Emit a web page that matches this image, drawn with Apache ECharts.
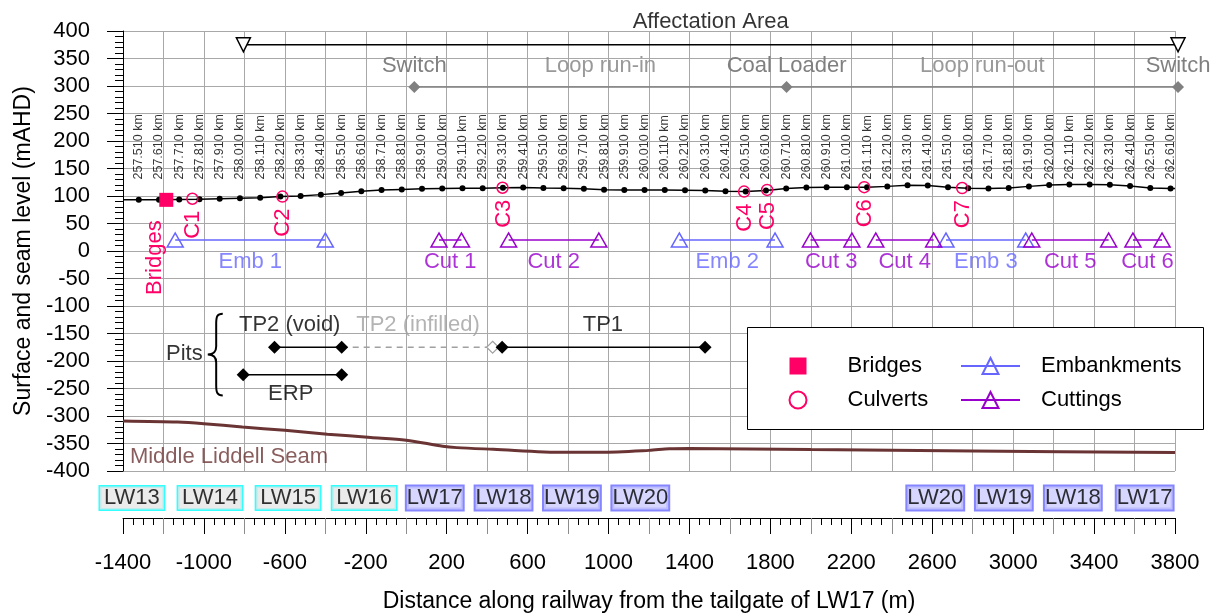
<!DOCTYPE html>
<html><head><meta charset="utf-8">
<script src="https://cdn.jsdelivr.net/npm/echarts@6/dist/echarts.min.js"></script>
<style>html,body{margin:0;padding:0;background:#fff}#c{width:1220px;height:614px}</style>
</head><body><div id="c"></div>
<script>
// ---------------- DATA ----------------
const chainageLabels = ['257.510 km','257.610 km','257.710 km','257.810 km','257.910 km','258.010 km','258.110 km','258.210 km','258.310 km','258.410 km','258.510 km','258.610 km','258.710 km','258.810 km','258.910 km','259.010 km','259.110 km','259.210 km','259.310 km','259.410 km','259.510 km','259.610 km','259.710 km','259.810 km','259.910 km','260.010 km','260.110 km','260.210 km','260.310 km','260.410 km','260.510 km','260.610 km','260.710 km','260.810 km','260.910 km','261.010 km','261.110 km','261.210 km','261.310 km','261.410 km','261.510 km','261.610 km','261.710 km','261.810 km','261.910 km','262.010 km','262.110 km','262.210 km','262.310 km','262.410 km','262.510 km','262.610 km'];
const surfaceDist = [-1322,-1222,-1122,-1022,-922,-822,-722,-622,-522,-422,-322,-222,-122,-22,78,178,278,378,478,578,678,778,878,978,1078,1178,1278,1378,1478,1578,1678,1778,1878,1978,2078,2178,2278,2378,2478,2578,2678,2778,2878,2978,3078,3178,3278,3378,3478,3578,3678,3778];
const surfaceLevel = [93,93,93.5,94,95,96,97,99,100,102.5,105.5,108.5,111,112,113,113.5,114,114,115,115.5,114.5,114,113,111.5,111,111,111,110.5,110,108.5,108,110,113.5,115.5,116,116,116,117.5,119.5,119,116,114,113.5,114.5,117.5,120,121,121,120.5,118,114.5,113.5];
const surfaceEnds = [[-1400, 93], [3800, 113.5]];
const chainageLabelLevel = 130;

const bridgeDist = [-1186];
const bridgeLevel = [93];

const culvertNames = ['C1','C2','C3','C4','C5','C6','C7'];
const culvertDist = [-1057,-612,476,1670,1784,2264,2748];
const culvertLevel = [95,99,115,108,111,116,114.5];

const structureLevel = 20;
const embNames = ['Emb 1','Emb 2','Emb 3'];
const embStart = [-1142,1350,2668];
const embEnd = [-400,1823,3062];
const cutNames = ['Cut 1','Cut 2','Cut 3','Cut 4','Cut 5','Cut 6'];
const cutStart = [162,506,1998,2321,3092,3592];
const cutEnd = [273,952,2203,2607,3472,3736];

const affectTitle = 'Affectation Area';
const affectDist = [-805, 3815];
const affectLevel = 375;

const featureNames = ['Switch','Coal Loader','Switch'];
const featureDist = [40, 1880, 3815];
const featureLevel = 298;
const sectionNames = ['Loop run-in','Loop run-out'];

const pitTPLevel = -175;
const pitERPLevel = -225;
const tp2VoidDist = [-651, -319];
const tp2InfilledDist = [-319, 427];
const tp1Dist = [474, 1477];
const erpDist = [-806, -319];
const pitLabelText = ['TP2 (void)','TP1','ERP','Pits'];
const pitLabelDist = [-576, 972, -571, -1097];
const pitLabelLevel = [-135, -135, -259, -186.5];
const infilledLabel = ['TP2 (infilled)'];
const infilledLabelDist = [58];
const infilledLabelLevel = [-135];
const braceDist = -944, braceTop = -114, braceBottom = -262.5;

const seamName = 'Middle Liddell Seam';
const seamDist =  [-1400,-1130,-1000,-810,-600,-390,-175,0,180,250,430,780,960,1200,1300,1400,2000,2800,3800];
const seamLevel = [-309,-311,-314,-320,-326,-333,-339,-344,-355,-357.5,-360.5,-366,-366,-362.5,-359.5,-359,-361,-363.5,-366.5];
const seamLabelDist = -1366, seamLabelLevel = -374.5;

const lwMinedNames = ['LW13','LW14','LW15','LW16'];
const lwMinedCentre = [-1356,-970,-584,-208];
const lwPlanNames = ['LW17','LW18','LW19','LW20','LW20','LW19','LW18','LW17'];
const lwPlanCentre = [141,481,819,1157,2615,2954,3295,3650];

const xTickLabelValues = [-1400,-1000,-600,-200,200,600,1000,1400,1800,2200,2600,3000,3400,3800];
const xGreyTickValues = [-1200,-800,-400,0,400,800,1200,1600,2000,2400,2800,3200,3600];

// ---------------- STYLE ----------------
const FONT = '"Liberation Sans", Arial, sans-serif';
const FS = 22;
const pink = '#FF0066', embBlue = '#6666FF', cutPurple = '#9900CC', grey = '#808080', lightGrey = '#A0A0A0', seamBrown = '#6B3434', gridCol = '#A8A8A8';

function textPoints(xs, ys, names) { return xs.map((x, i) => ({value: [x, ys[i]], name: names[i]})); }
function labelSeries(data, color, offset, extra) {
  return Object.assign({
    type: 'scatter', xAxisIndex: 0, yAxisIndex: 0, symbolSize: 1, silent: true, clip: false,
    itemStyle: {color: 'rgba(0,0,0,0)'}, data: data, z: 6,
    label: Object.assign({show: true, position: 'inside', formatter: p => p.name, color: color, fontSize: FS,
      fontFamily: FONT, textBorderWidth: 0, offset: offset, align: 'center', verticalAlign: 'middle'}, extra || {})
  });
}

const series = [];
// Seam
series.push({type: 'line', name: 'seam', data: seamDist.map((d, i) => [d, seamLevel[i]]), symbol: 'none', smooth: 0.3,
  lineStyle: {color: seamBrown, width: 3}, silent: true, z: 2});
series.push(labelSeries([{value: [seamLabelDist, seamLabelLevel], name: seamName}], seamBrown, [0, 0], {align: 'left'}));

// Surface
series.push({type: 'line', name: 'surface', showAllSymbol: true,
  data: [{value: surfaceEnds[0], symbol: 'none'}].concat(surfaceDist.map((d, i) => [d, surfaceLevel[i]]), [{value: surfaceEnds[1], symbol: 'none'}]),
  symbol: 'circle', symbolSize: 6, lineStyle: {color: '#000', width: 1.5}, itemStyle: {color: '#000'}, silent: true, z: 3});
series.push(labelSeries(textPoints(surfaceDist, surfaceDist.map(() => chainageLabelLevel), chainageLabels), '#000', [0, 0],
  {rotate: 90, align: 'left', fontSize: 12.5}));

// Bridges (rotated-label offsets are given in the label's own rotated frame)
series.push({type: 'scatter', name: 'Bridges', data: bridgeDist.map((d, i) => [d, bridgeLevel[i]]), symbol: 'rect', symbolSize: 14,
  itemStyle: {color: pink, opacity: 1}, z: 5,
  label: {show: true, formatter: 'Bridges', position: 'inside', rotate: 90, align: 'right', verticalAlign: 'middle', offset: [-20.5, -11],
    color: pink, fontSize: FS, fontFamily: FONT, textBorderWidth: 0}});
// Culverts
series.push({type: 'scatter', name: 'Culverts', data: textPoints(culvertDist, culvertLevel, culvertNames), symbol: 'circle', symbolSize: 11,
  itemStyle: {color: 'rgba(255,255,255,0)', borderColor: pink, borderWidth: 1.5, opacity: 1}, z: 5,
  label: {show: true, formatter: p => p.name, position: 'inside', rotate: 90, align: 'right', verticalAlign: 'middle', offset: [-12, 1],
    color: pink, fontSize: FS, fontFamily: FONT, textBorderWidth: 0}});

// Embankments & cuttings
function segSeries(name, starts, ends, color) {
  return starts.map((s, i) => ({type: 'line', name: name, data: [[s, structureLevel], [ends[i], structureLevel]],
    symbol: 'triangle', symbolSize: [16, 14], lineStyle: {color: color, width: 1.5},
    itemStyle: {color: 'rgba(255,255,255,0)', borderColor: color, borderWidth: 1.5}, z: 4}));
}
segSeries('Embankments', embStart, embEnd, embBlue).forEach(s => series.push(s));
segSeries('Cuttings', cutStart, cutEnd, cutPurple).forEach(s => series.push(s));
series.push(labelSeries(textPoints(embStart.map((s, i) => (s + embEnd[i]) / 2), embNames.map(() => structureLevel), embNames), embBlue, [0, 22]));
series.push(labelSeries(textPoints(cutStart.map((s, i) => (s + cutEnd[i]) / 2), cutNames.map(() => structureLevel), cutNames), cutPurple, [0, 22]));

// Affectation area
series.push({type: 'line', name: 'affect', data: affectDist.map(d => [d, affectLevel]), symbol: 'triangle', symbolRotate: 180, symbolSize: 14,
  clip: false, lineStyle: {color: '#000', width: 1.5}, itemStyle: {color: '#fff', borderColor: '#000', borderWidth: 1.5}, silent: true, z: 4});
series.push(labelSeries([{value: [(affectDist[0] + affectDist[1]) / 2, affectLevel], name: affectTitle}], '#000', [0, -22.6]));

// Railway features
series.push({type: 'line', name: 'features', data: textPoints(featureDist, featureDist.map(() => featureLevel), featureNames), symbol: 'diamond', symbolSize: 12,
  clip: false, lineStyle: {color: grey, width: 1.5}, itemStyle: {color: grey}, silent: true, z: 4,
  label: {show: true, position: 'inside', formatter: p => p.name, offset: [0, -20.7], color: grey, fontSize: FS, fontFamily: FONT, textBorderWidth: 0}});
series.push(labelSeries(textPoints(sectionNames.map((n, i) => (featureDist[i] + featureDist[i + 1]) / 2), sectionNames.map(() => featureLevel), sectionNames), grey, [0, -20.7]));

// Pits
series.push({type: 'line', name: 'tp2inf', data: [{value: [tp2InfilledDist[0], pitTPLevel], symbol: 'none'}, [tp2InfilledDist[1], pitTPLevel]],
  symbol: 'diamond', symbolSize: 12, lineStyle: {color: lightGrey, width: 1.5, type: [6, 5]}, itemStyle: {color: '#fff', borderColor: lightGrey, borderWidth: 1.2}, silent: true, z: 4});
[tp2VoidDist, tp1Dist].forEach(seg => series.push({type: 'line', name: 'tp', data: seg.map(d => [d, pitTPLevel]), symbol: 'diamond', symbolSize: 13,
  lineStyle: {color: '#000', width: 1.5}, itemStyle: {color: '#000'}, silent: true, z: 5}));
series.push({type: 'line', name: 'erp', data: erpDist.map(d => [d, pitERPLevel]), symbol: 'diamond', symbolSize: 13,
  lineStyle: {color: '#000', width: 1.5}, itemStyle: {color: '#000'}, silent: true, z: 5});
series.push(labelSeries(textPoints(pitLabelDist, pitLabelLevel, pitLabelText), '#000', [0, 0]));
series.push(labelSeries(textPoints(infilledLabelDist, infilledLabelLevel, infilledLabel), lightGrey, [0, 0]));
// Brace
series.push({type: 'custom', name: 'brace', xAxisIndex: 0, yAxisIndex: 0, silent: true, clip: false, z: 5,
  data: [[braceDist, braceTop, braceBottom]], encode: {x: 0, y: [1, 2]},
  renderItem: function (params, api) {
    const top = api.coord([api.value(0), api.value(1)]);
    const bot = api.coord([api.value(0), api.value(2)]);
    const w = 15;
    return {type: 'path', shape: {pathData: 'M16,0 C10,0 9,3 9,10 L9,33 C9,38 6,41 0,41 C6,41 9,44 9,49 L9,72 C9,79 10,82 16,82',
      x: top[0] - w / 2, y: top[1], width: w, height: bot[1] - top[1], layout: 'cover'},
      style: {stroke: '#000', lineWidth: 2, fill: 'none'}};
  }});

// Longwall boxes
function lwSeries(names, centres, bg, border, bw, pad) {
  return {type: 'scatter', xAxisIndex: 1, yAxisIndex: 1, symbolSize: 1, silent: true, itemStyle: {color: 'rgba(0,0,0,0)'},
    data: textPoints(centres, centres.map(() => 0.5), names),
    label: {show: true, position: 'inside', formatter: p => p.name, color: '#000', fontSize: FS, fontFamily: FONT, lineHeight: 22,
      backgroundColor: bg, borderColor: border, borderWidth: bw, padding: pad, textBorderWidth: 0}};
}
series.push(lwSeries(lwMinedNames, lwMinedCentre, '#E6E6E6', '#00FFFF', 1.5, [1, 4, 0, 4]));
series.push(lwSeries(lwPlanNames, lwPlanCentre, '#CCCCFF', '#6666FF', 2, [1, 0, 0, 0]));

const option = {
  animation: false,
  backgroundColor: '#fff',
  textStyle: {fontFamily: FONT},
  grid: [
    {left: 123, right: 45, top: 31, bottom: 143},
    {left: 123, right: 45, top: 478, height: 42}
  ],
  xAxis: [
    {type: 'value', gridIndex: 0, min: -1400, max: 3800, interval: 200,
      axisLine: {show: false, onZero: false}, axisTick: {show: false}, axisLabel: {show: false},
      splitLine: {show: true, lineStyle: {color: gridCol, width: 1}}},
    {type: 'value', gridIndex: 1, min: -1400, max: 3800, interval: 200, position: 'bottom',
      axisLine: {show: true, onZero: false, lineStyle: {color: '#000', width: 1}},
      axisTick: {show: true, length: 16, lineStyle: {color: '#000'}},
      minorTick: {show: true, splitNumber: 4, length: 7, lineStyle: {color: '#000'}},
      axisLabel: {show: true, margin: 34, fontSize: FS, color: '#000', fontFamily: FONT, customValues: xTickLabelValues,
        formatter: v => String(v)},
      splitLine: {show: false},
      name: 'Distance along railway from the tailgate of LW17 (m)', nameLocation: 'middle', nameGap: 72,
      nameTextStyle: {fontSize: 23, color: '#000', fontFamily: FONT}},
    {type: 'value', gridIndex: 1, min: -1400, max: 3800, interval: 200, position: 'bottom',
      axisLine: {show: false, onZero: false}, axisLabel: {show: false}, splitLine: {show: false},
      axisTick: {show: true, length: 16, customValues: xGreyTickValues, lineStyle: {color: '#8C8C8C'}}}
  ],
  yAxis: [
    {type: 'value', gridIndex: 0, min: -400, max: 400, interval: 50,
      axisLine: {show: true, onZero: false, lineStyle: {color: '#000', width: 1}},
      axisTick: {show: true, length: 16, lineStyle: {color: '#000'}},
      minorTick: {show: true, splitNumber: 5, length: 8, lineStyle: {color: '#000'}},
      axisLabel: {fontSize: FS, color: '#000', margin: 33, fontFamily: FONT},
      splitLine: {show: true, lineStyle: {color: gridCol, width: 1}},
      name: 'Surface and seam level (mAHD)', nameLocation: 'middle', nameGap: 65,
      nameTextStyle: {fontSize: 23, color: '#000', fontFamily: FONT}},
    {type: 'value', gridIndex: 1, min: 0, max: 1, show: false}
  ],
  legend: [
    {data: ['Bridges', 'Culverts'], orient: 'vertical', left: 783.5, top: 350, itemWidth: 17, itemHeight: 17, itemGap: 12,
      selectedMode: false, textStyle: {fontSize: FS, color: '#000', fontFamily: FONT, lineHeight: 22, padding: [0, 0, 0, 36]}},
    {data: ['Embankments', 'Cuttings'], orient: 'vertical', left: 955, top: 350, itemWidth: 59, itemHeight: 20, itemGap: 12,
      selectedMode: false, textStyle: {fontSize: FS, color: '#000', fontFamily: FONT, lineHeight: 22, padding: [0, 0, 0, 16]}}
  ],
  graphic: [
    {type: 'rect', left: 747, top: 327, z: 3, silent: true,
      shape: {width: 456, height: 102}, style: {fill: '#fff', stroke: '#000', lineWidth: 1}}
  ],
  series: series
};
const chart = echarts.init(document.getElementById('c'), null, {renderer: 'canvas'});
chart.setOption(option);
</script>
</body></html>
